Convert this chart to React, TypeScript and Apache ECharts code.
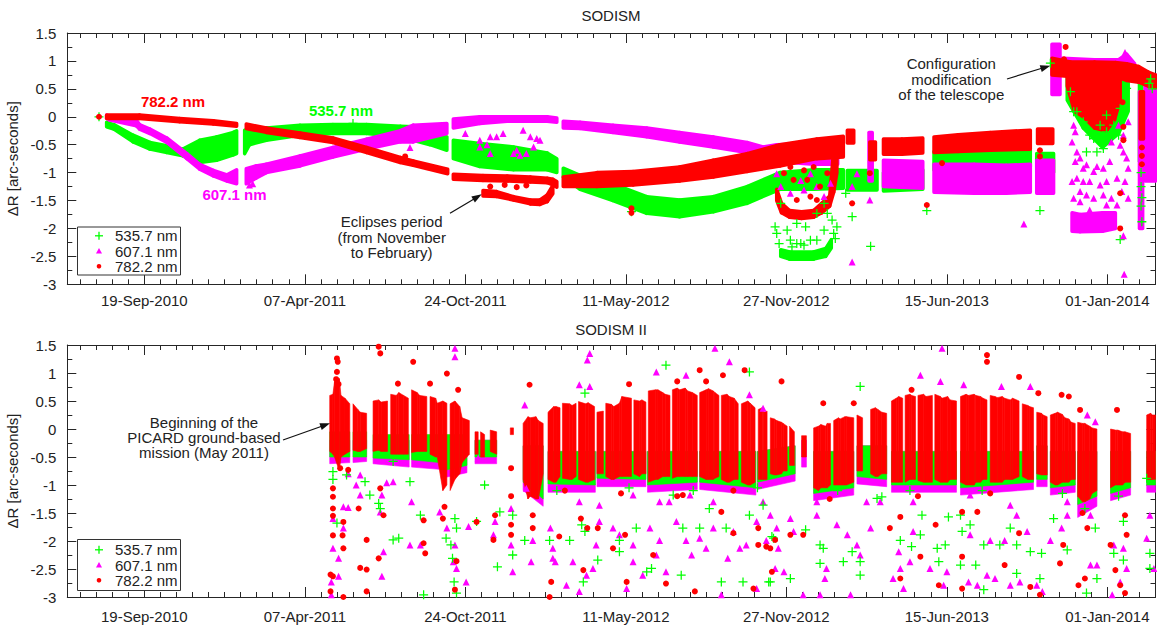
import React, { useEffect, useRef } from 'react';
import * as echarts from 'echarts';

// x values: days since 15-Jun-2010 (left edge of both panels)
const X_MAX = 1356;
const TICK_DAYS = [96, 296, 496, 696, 896, 1096, 1296];
const TICK_LABELS = ['19-Sep-2010', '07-Apr-2011', '24-Oct-2011', '11-May-2012', '27-Nov-2012', '15-Jun-2013', '01-Jan-2014'];
const MINOR_FIRST = 16;
const MINOR_STEP = 20;
const Y_MIN = -3;
const Y_MAX = 1.5;
const Y_STEP = 0.5;
const NAMES = ['535.7 nm', '607.1 nm', '782.2 nm'];
const PANEL_TITLES = ['SODISM', 'SODISM II'];

// ---------- SODISM (top panel) ----------
// dense trails: segments of [day, low, high]
const TOP_GREEN_BANDS = [
  [[49, -0.18, -0.1], [58, -0.22, -0.14], [82, -0.45, -0.33], [103, -0.58, -0.46], [124, -0.64, -0.52], [144, -0.7, -0.58], [165, -0.82, -0.42], [186, -0.78, -0.36], [207, -0.68, -0.28], [211, -0.66, -0.25]],
  [[221, -0.66, -0.24], [227, -0.5, -0.22], [248, -0.42, -0.2], [290, -0.33, -0.15], [331, -0.3, -0.14], [373, -0.3, -0.14], [415, -0.36, -0.17], [431, -0.42, -0.18], [452, -0.5, -0.28], [473, -0.6, -0.36]],
  [[481, -0.75, -0.42], [514, -0.89, -0.48], [556, -0.95, -0.54], [598, -0.95, -0.65], [610, -1.0, -0.75]],
  [[618, -1.08, -0.92], [639, -1.3, -1.05], [680, -1.5, -1.2], [722, -1.73, -1.43], [763, -1.79, -1.49], [805, -1.7, -1.43], [847, -1.55, -1.25], [888, -1.3, -1.0], [930, -1.3, -0.95], [967, -1.28, -0.95]],
  [[889, -2.5, -2.38], [900, -2.55, -2.42], [930, -2.55, -2.42], [945, -2.5, -2.36], [952, -2.35, -2.2]],
  [[972, -1.31, -0.96], [1009, -1.31, -0.96]],
  [[1017, -1.33, -1.0], [1066, -1.3, -0.95]],
  [[1080, -0.95, -0.62], [1130, -0.92, -0.62], [1170, -0.9, -0.6], [1200, -0.9, -0.6]],
  [[1208, -1.0, -0.66], [1229, -1.0, -0.66]],
  [[1246, 0.3, 0.75], [1266, -0.2, 0.75], [1290, -0.55, 0.7], [1310, -0.3, 0.7], [1322, 0.1, 0.7]],
  [[1336, -0.8, 0.69], [1339, -0.8, 0.69]],
];
const TOP_GREEN_POINTS = [
  [39.5, 0.0], [356, -0.12], [703, -1.7],
  [882, -1.97], [884, -2.09], [887, -2.27], [889, -1.55], [897, -2.03], [901, -2.21], [903, -2.33], [909, -1.91], [909, -2.27], [914, -2.27], [918, -2.3], [920, -1.97], [926, -2.21], [934, -2.21], [934, -1.73], [943, -2.03], [943, -1.55], [947, -1.73], [953, -1.85], [955, -2.09], [957, -2.18], [959, -1.97],
  [970, -1.37], [978, -1.79], [1001, -2.32], [1071, -1.68], [1212, -1.68],
  [1225, 0.96], [1250, 0.45], [1254, 0.09], [1258, 0.09], [1266, -0.09], [1270, -0.63], [1274, -0.33], [1279, -0.39], [1283, -0.63], [1287, -0.15], [1291, -0.57], [1295, -0.27], [1295, 0.03], [1304, -0.15], [1310, -0.33], [1312, 0.15], [1320, 0.51],
  [1338, -1.0], [1338, -1.25], [1339, -1.45], [1338, -1.6], [1339, -1.88], [1312, -2.2], [1348, 0.6], [1352, 0.5], [1350, 0.68],
];
const TOP_MAGENTA_BANDS = [
  [[49, -0.03, 0.03], [53, -0.06, 0.0], [86, -0.16, -0.06], [90, -0.22, -0.14], [103, -0.3, -0.22], [124, -0.46, -0.38], [149, -0.75, -0.66], [165, -0.94, -0.85], [182, -1.06, -0.96], [199, -1.15, -1.04], [211, -1.2, -0.95]],
  [[223, -1.2, -0.93], [235, -1.1, -0.88], [248, -1.0, -0.85], [290, -0.88, -0.7], [331, -0.72, -0.55], [373, -0.58, -0.4], [415, -0.45, -0.25], [431, -0.45, -0.15], [473, -0.3, -0.12]],
  [[481, -0.2, -0.04], [514, -0.12, 0.0], [548, -0.08, 0.0], [577, -0.08, 0.0], [598, -0.08, 0.0], [610, -0.1, -0.02]],
  [[618, -0.2, -0.08], [639, -0.21, -0.1], [680, -0.28, -0.15], [722, -0.36, -0.2], [763, -0.45, -0.28], [805, -0.54, -0.36], [847, -0.64, -0.46], [867, -0.71, -0.54], [884, -0.8, -0.5], [930, -0.85, -0.48], [960, -0.85, -0.45]],
  [[999, -1.15, -0.28], [1003, -1.15, -0.28]],
  [[1017, -1.25, -0.78], [1066, -1.28, -0.8]],
  [[1080, -1.35, -0.85], [1130, -1.37, -0.85], [1170, -1.37, -0.87], [1200, -1.35, -0.85]],
  [[1208, -1.37, -0.78], [1229, -1.37, -0.78]],
  [[1227, 0.4, 1.3], [1237, 0.4, 1.3]],
  [[1240, 0.78, 1.05], [1280, 0.8, 1.02], [1310, 0.8, 1.02], [1320, 0.75, 1.12], [1330, 0.7, 0.95]],
  [[1252, -2.05, -1.72], [1262, -2.06, -1.75], [1290, -2.05, -1.72], [1306, -2.0, -1.72]],
  [[1336, -2.0, 0.45], [1340, -2.0, 0.45]],
  [[1343, -1.15, 0.75], [1356, -1.15, 0.75]],
];
const TOP_MAGENTA_POINTS = [
  [227, -1.22], [231, -1.2], [427, -0.55], [496, -0.3], [514, -0.42], [514, -0.54], [523, -0.5], [527, -0.36], [527, -0.66], [535, -0.36], [543, -0.3], [556, -0.66], [560, -0.6], [564, -0.69], [568, -0.24], [572, -0.66], [577, -0.36], [581, -0.54], [585, -0.39], [589, -0.42],
  [884, -1.02], [889, -1.25], [901, -1.37], [914, -1.14], [918, -1.31], [926, -1.02], [934, -1.25], [943, -1.43], [951, -1.19],
  [978, -2.6], [1000, -1.49], [978, -1.25], [984, -1.02], [1192, -1.92],
  [1252, -0.45], [1258, -0.63], [1256, -0.8], [1262, -0.74], [1266, -0.92], [1270, -0.86], [1279, -0.98], [1283, -0.89], [1291, -0.92], [1299, -0.8], [1312, -0.51], [1316, -0.63], [1320, -0.74], [1322, -0.92], [1318, -1.16], [1322, -1.46], [1314, -1.34], [1295, -1.16], [1287, -1.22], [1274, -1.16], [1266, -1.16], [1258, -1.1], [1252, -1.16], [1254, -1.46], [1262, -1.52], [1270, -1.4], [1279, -1.46], [1291, -1.4], [1301, -1.46], [1308, -1.58], [1274, -1.67], [1256, -0.27], [1310, -0.15], [1322, -0.09], [1254, -0.15], [1301, -0.45], [1316, -0.33], [1308, -1.1], [1262, -1.34], [1295, -1.58],
  [1317, -2.82], [1316, -2.13], [1318, 1.15],
];
const TOP_RED_BANDS = [
  [[49, -0.03, 0.03], [90, -0.03, 0.03], [140, -0.09, -0.03], [182, -0.13, -0.07], [211, -0.17, -0.12]],
  [[223, -0.21, -0.13], [248, -0.28, -0.2], [290, -0.37, -0.29], [331, -0.46, -0.38], [373, -0.64, -0.55], [415, -0.82, -0.73], [431, -0.87, -0.79], [474, -1.02, -0.94]],
  [[481, -1.12, -1.03], [518, -1.14, -1.05], [548, -1.15, -1.06], [577, -1.17, -1.08], [598, -1.18, -1.1], [605, -1.22, -1.12], [610, -1.26, -1.16]],
  [[518, -1.42, -1.32], [535, -1.43, -1.34], [556, -1.49, -1.43], [577, -1.56, -1.49], [589, -1.57, -1.49], [598, -1.52, -1.4], [605, -1.38, -1.23]],
  [[618, -1.25, -1.08], [660, -1.25, -1.0], [705, -1.22, -0.98], [763, -1.15, -0.9], [805, -1.08, -0.78], [847, -0.98, -0.66], [888, -0.88, -0.5], [934, -0.75, -0.4], [967, -0.72, -0.35]],
  [[884, -1.5, -1.3], [890, -1.72, -1.55], [900, -1.8, -1.68], [915, -1.82, -1.7], [930, -1.8, -1.68], [940, -1.72, -1.55], [950, -1.6, -1.42], [955, -1.35, -0.6], [959, -1.0, -0.5]],
  [[972, -0.47, -0.24], [980, -0.47, -0.24]],
  [[1000, -0.77, -0.45], [1007, -0.77, -0.45]],
  [[1017, -0.67, -0.4], [1040, -0.67, -0.4], [1066, -0.65, -0.38]],
  [[1080, -0.64, -0.36], [1110, -0.62, -0.32], [1150, -0.6, -0.28], [1200, -0.58, -0.24]],
  [[1209, -0.48, -0.22], [1228, -0.48, -0.22]],
  [[1227, 0.75, 1.05], [1250, 0.72, 0.98], [1280, 0.72, 0.98], [1306, 0.72, 0.97], [1320, 0.65, 0.95], [1335, 0.62, 0.9], [1347, 0.55, 0.8], [1356, 0.52, 0.75]],
  [[1246, 0.55, 0.78], [1255, 0.1, 0.78], [1266, 0.0, 0.78], [1280, -0.2, 0.78], [1295, -0.25, 0.78], [1305, -0.05, 0.78], [1312, 0.3, 0.78]],
  [[1337, -0.4, 0.45], [1341, -0.4, 0.45]],
];
const TOP_RED_POINTS = [
  [39.5, 0.0], [421, -0.71], [703, -1.64], [703, -1.72], [527, -1.25], [545, -1.22], [560, -1.26], [572, -1.23],
  [901, -0.9], [918, -0.96], [922, -1.13], [905, -1.13], [930, -0.9], [938, -1.25], [893, -1.01], [909, -1.49], [926, -1.43], [947, -1.01], [934, -1.49],
  [978, -1.55], [1000, -1.01], [1071, -1.58], [1090, -0.83], [1212, -0.6], [1212, -0.71],
  [1242, 1.03], [1244, 1.25], [1312, -1.37], [1312, -2.0], [1316, -0.18], [1316, -0.42], [1315, 0.26], [1339, -0.55], [1339, -0.7], [1339, -0.85],
];

// ---------- SODISM II (bottom panel) ----------
const BOT_MAGENTA_BANDS = [
  [[327, -0.62, -0.2], [352, -0.6, -0.2]], [[356, -0.6, -0.2], [373, -0.58, -0.2]], [[381, -0.62, -0.2], [426, -0.68, -0.2]], [[429, -0.68, -0.2], [464, -0.72, -0.2]],
  [[466, -0.88, -0.2], [498, -0.78, -0.2]], [[508, -0.62, -0.2], [535, -0.62, -0.2]], [[568, -1.1, -0.3], [593, -1.38, -0.3]], [[599, -1.13, -0.4], [658, -1.13, -0.4]],
  [[660, -1.03, -0.4], [721, -1.03, -0.4]], [[723, -1.13, -0.4], [785, -1.08, -0.4]], [[788, -1.08, -0.4], [858, -1.18, -0.4]], [[860, -1.08, -0.4], [907, -0.93, -0.3]],
  [[915, -0.68, -0.2], [921, -0.68, -0.2]], [[930, -1.28, -0.4], [980, -1.18, -0.4]], [[984, -0.98, -0.3], [1021, -1.03, -0.3]], [[1027, -1.13, -0.4], [1108, -1.13, -0.4]],
  [[1113, -1.18, -0.4], [1204, -1.08, -0.4]], [[1208, -1.03, -0.3], [1221, -1.03, -0.3]], [[1225, -1.18, -0.4], [1256, -1.13, -0.4]], [[1259, -1.58, -0.4], [1283, -1.38, -0.4]],
  [[1300, -1.28, -0.4], [1325, -1.18, -0.4]], [[1345, -1.13, -0.4], [1356, -1.13, -0.4]],
];
const BOT_GREEN_BANDS = [
  [[327, -0.5, -0.05], [352, -0.5, -0.05]], [[356, -0.5, -0.05], [373, -0.5, -0.05]], [[381, -0.52, -0.1], [426, -0.55, -0.1]], [[429, -0.55, -0.1], [464, -0.6, -0.1]],
  [[466, -0.75, -0.1], [498, -0.65, -0.1]], [[508, -0.5, -0.2], [535, -0.5, -0.2]], [[568, -0.95, -0.3], [593, -1.25, -0.3]], [[599, -0.98, -0.4], [658, -1.0, -0.4]],
  [[660, -0.88, -0.4], [721, -0.9, -0.4]], [[723, -1.0, -0.4], [785, -0.95, -0.4]], [[788, -0.95, -0.4], [858, -1.05, -0.4]], [[860, -0.95, -0.4], [907, -0.8, -0.3]],
  [[930, -1.15, -0.4], [980, -1.05, -0.4]], [[984, -0.85, -0.3], [1021, -0.9, -0.3]], [[1027, -1.0, -0.4], [1108, -1.0, -0.4]], [[1113, -1.05, -0.4], [1204, -0.95, -0.4]],
  [[1208, -0.9, -0.3], [1221, -0.9, -0.3]], [[1225, -1.05, -0.4], [1256, -1.0, -0.4]], [[1259, -1.35, -0.4], [1283, -1.2, -0.4]], [[1300, -1.15, -0.4], [1325, -1.05, -0.4]],
  [[1345, -1.0, -0.4], [1356, -1.0, -0.4]],
];
const BOT_RED_BANDS = [
  [[327, -0.4, 0.6], [331, -0.45, 0.62], [333, -0.5, 0.85], [339, -0.75, 0.9], [341, -0.5, 0.6], [346, -0.45, 0.55], [352, -0.4, 0.45]],
  [[356, -0.38, 0.45], [362, -0.4, 0.35], [365, -0.4, 0.3], [373, -0.35, 0.28]],
  [[381, -0.4, 0.5], [388, -0.38, 0.52], [391, -0.4, 0.48], [399, -0.4, 0.5]],
  [[403, -0.45, 0.62], [410, -0.45, 0.6], [413, -0.45, 0.65], [419, -0.45, 0.6], [425, -0.45, 0.55]],
  [[429, -0.42, 0.7], [436, -0.4, 0.65], [439, -0.4, 0.6], [448, -0.4, 0.58]],
  [[452, -0.45, 0.58], [459, -0.5, 0.55], [461, -0.5, 0.46], [468, -1.1, 0.5], [473, -1.0, 0.46]],
  [[477, -1.1, 0.45], [483, -0.9, 0.5], [489, -0.8, 0.4], [492, -0.6, 0.2], [501, -0.45, 0.15]],
  [[508, -0.45, -0.05], [512, -0.45, -0.05]],
  [[515, -0.5, -0.05], [520, -0.5, -0.1]],
  [[527, -0.4, -0.02], [535, -0.45, -0.05]],
  [[552, -0.1, 0.02], [556, -0.1, 0.02]],
  [[568, -0.9, 0.1], [574, -1.25, 0.22], [577, -1.2, 0.2], [584, -1.25, 0.22], [587, -1.25, 0.15], [593, -0.8, 0.1]],
  [[599, -0.9, 0.3], [606, -0.95, 0.4], [609, -0.95, 0.4], [614, -0.85, 0.38]],
  [[617, -0.88, 0.46], [626, -0.9, 0.45], [629, -0.9, 0.42], [634, -0.85, 0.46]],
  [[637, -0.9, 0.49], [646, -0.95, 0.45], [649, -0.95, 0.47], [657, -0.9, 0.4]],
  [[660, -0.8, 0.3], [668, -0.8, 0.32]],
  [[671, -0.85, 0.46], [678, -0.9, 0.44], [681, -0.9, 0.4], [688, -0.85, 0.46], [691, -0.85, 0.58], [703, -0.85, 0.55]],
  [[706, -0.8, 0.52], [713, -0.85, 0.5], [716, -0.8, 0.52], [721, -0.8, 0.48]],
  [[724, -0.95, 0.68], [733, -0.9, 0.7], [736, -0.9, 0.7], [742, -0.85, 0.65], [745, -0.85, 0.62], [751, -0.85, 0.6]],
  [[754, -0.88, 0.7], [760, -0.85, 0.73], [763, -0.85, 0.7], [770, -0.85, 0.73], [773, -0.85, 0.68], [779, -0.85, 0.65], [785, -0.85, 0.6]],
  [[788, -0.85, 0.65], [796, -0.9, 0.7], [799, -0.9, 0.72], [805, -0.9, 0.68], [807, -0.88, 0.65], [812, -0.85, 0.6]],
  [[815, -0.9, 0.6], [822, -0.95, 0.62], [825, -0.95, 0.58], [831, -0.9, 0.55], [836, -0.9, 0.45]],
  [[840, -0.95, 0.45], [848, -1.0, 0.5], [851, -1.0, 0.46], [857, -0.95, 0.38]],
  [[861, -0.9, 0.35], [866, -0.9, 0.38], [868, -0.9, 0.3], [872, -0.9, 0.32]],
  [[876, -0.8, 0.2], [881, -0.82, 0.18], [884, -0.82, 0.15], [890, -0.8, 0.12], [892, -0.75, 0.1], [897, -0.75, 0.05]],
  [[900, -0.65, 0.05], [906, -0.65, -0.05]],
  [[915, -0.5, -0.12], [921, -0.5, -0.12]],
  [[930, -1.05, 0.02], [936, -1.1, 0.05], [939, -1.05, 0.08], [945, -1.05, 0.05], [947, -1.05, 0.1], [951, -1.0, 0.1]],
  [[955, -1.0, 0.15], [961, -1.0, 0.2], [963, -1.0, 0.18], [969, -1.0, 0.22], [971, -1.0, 0.22], [980, -0.95, 0.2]],
  [[984, -0.75, 0.25], [991, -0.75, 0.2]],
  [[1001, -0.8, 0.35], [1007, -0.85, 0.38], [1010, -0.85, 0.35], [1015, -0.8, 0.3], [1021, -0.8, 0.28]],
  [[1027, -0.95, 0.5], [1033, -0.95, 0.55], [1036, -0.95, 0.58], [1041, -0.95, 0.55]],
  [[1044, -0.95, 0.6], [1050, -0.9, 0.62], [1052, -0.9, 0.6], [1057, -0.9, 0.58]],
  [[1060, -0.92, 0.6], [1067, -0.95, 0.62], [1070, -0.95, 0.58], [1078, -0.95, 0.6]],
  [[1081, -0.9, 0.62], [1088, -0.95, 0.58], [1090, -0.95, 0.55], [1097, -0.95, 0.58], [1100, -0.9, 0.52], [1108, -0.9, 0.5]],
  [[1113, -0.95, 0.58], [1120, -1.0, 0.62], [1123, -1.0, 0.6], [1130, -1.0, 0.62], [1132, -0.95, 0.6], [1138, -0.95, 0.58], [1141, -0.9, 0.55], [1146, -0.9, 0.52]],
  [[1150, -0.95, 0.6], [1156, -0.95, 0.58], [1159, -0.95, 0.56], [1165, -0.95, 0.58], [1168, -0.9, 0.55], [1175, -0.9, 0.52], [1178, -0.9, 0.55], [1186, -0.85, 0.5]],
  [[1190, -0.85, 0.45], [1197, -0.9, 0.42], [1199, -0.9, 0.4], [1204, -0.9, 0.38]],
  [[1208, -0.8, 0.3], [1214, -0.82, 0.28], [1216, -0.82, 0.25], [1221, -0.82, 0.22]],
  [[1225, -0.95, 0.25], [1231, -1.0, 0.28], [1234, -1.0, 0.3], [1240, -0.95, 0.26], [1243, -0.95, 0.2], [1248, -0.95, 0.18], [1251, -0.9, 0.12], [1256, -0.9, 0.1]],
  [[1259, -1.2, 0.12], [1265, -1.3, 0.1], [1268, -1.3, 0.1], [1274, -1.25, 0.05], [1277, -1.15, 0.02], [1283, -1.1, 0.0]],
  [[1300, -1.05, 0.0], [1306, -1.0, -0.02], [1309, -1.0, -0.02], [1315, -1.0, -0.05], [1318, -0.95, -0.05], [1325, -0.95, -0.08]],
  [[1345, -0.9, 0.25], [1350, -0.9, 0.28], [1352, -0.9, 0.25], [1356, -0.9, 0.25]],
];
const BOT_MAGENTA_POINTS = [
  [331, -1.6], [331, -2.13], [329, -2.73], [329, -2.96], [344, -1.39], [344, -1.77], [350, -1.4], [338, -2.31], [338, -2.63], [365, -0.82], [365, -1.18], [392, -1.18], [394, -2.19], [392, -2.63], [398, -0.96], [390, -1.48], [360, -1.0], [350, -0.8],
  [483, 1.44], [483, 1.29], [406, -0.94], [427, -2.07], [440, -2.07], [429, -1.3], [464, -1.48], [473, -1.77], [483, -2.07], [481, -2.37], [485, -2.49], [497, -2.73], [500, -1.74], [512, -0.52], [531, -1.89], [533, -1.65], [553, -1.42], [553, -2.07], [555, -2.55], [570, 0.43], [578, -2.37], [572, -1.06], [580, -1.99],
  [602, -1.77], [605, -2.31], [605, -2.13], [608, -2.37], [630, -2.37], [622, -2.79], [638, 0.79], [651, 0.76], [651, 1.35], [648, 1.23], [638, -2.9], [647, -2.61], [655, -2.49], [659, -2.07], [663, -1.65], [680, -1.77], [688, -1.89], [697, -2.85], [705, -2.37], [705, -2.07], [717, -2.61], [726, -1.77], [734, 1.02], [734, -2.25], [738, -1.99], [746, -2.55], [750, -1.3], [759, -1.65], [771, 0.96], [771, -1.99], [778, -2.25], [788, -1.95], [796, -2.13], [805, -1.77], [807, 1.44], [815, -2.96], [825, 1.2], [823, -2.31], [830, -1.83], [838, -2.13], [846, -2.07], [859, -1.65], [871, -1.99], [884, -1.77], [882, -2.49], [850, 0.61], [867, 0.37],
  [859, -2.85], [886, -2.13], [893, -2.55], [901, -1.6], [905, -1.83], [917, -2.96], [938, -2.96], [934, -1.54], [946, -2.49], [944, -2.67], [959, -1.71], [972, -1.89], [976, -2.96], [984, -2.07], [988, -2.25], [1001, -1.77], [1013, -1.3], [1029, -2.67], [1036, -2.19], [1038, -2.49], [1042, -2.85], [1054, -1.83], [1063, 0.96], [1050, -2.37], [1075, -2.49], [1088, 0.85], [1090, 1.44], [1092, -2.79], [1096, -2.55], [1117, 0.79], [1123, -2.73], [1125, -1.89], [1134, -2.79], [1146, -2.61], [1150, -1.99], [1156, -2.67], [1164, 0.76], [1168, -1.99], [1175, -2.79], [1183, -1.54], [1187, -2.73], [1200, 0.76], [1196, -1.83], [1208, -2.79], [1215, -2.9], [1225, -1.99], [1239, -1.77], [1246, -1.54], [1271, 0.25], [1275, -2.43], [1281, 0.13], [1283, -2.43], [1302, -2.96], [1304, -2.07], [1316, -2.13], [1312, -2.73], [1320, -2.49], [1354, -2.49], [1349, -1.54], [1345, -1.95],
  [638, -1.3], [663, -1.36], [705, -1.18], [738, -1.3], [776, -1.18], [805, -1.3], [867, -1.3], [876, -1.54], [934, -1.3], [996, -1.3], [1054, -1.3], [1125, -1.18], [1175, -1.36], [1246, -1.3], [1275, -1.54],
];
const BOT_GREEN_POINTS = [
  [331, -0.76], [331, -0.9], [336, -1.68], [348, -0.82], [371, -0.94], [377, -1.18], [388, -1.33], [390, -1.42], [406, -1.98], [413, -1.95], [406, -0.58],
  [440, -1.54], [444, -2.96], [472, -1.95], [478, -2.07], [480, -2.31], [482, -2.73], [485, -2.93], [483, -1.6], [485, -1.77], [510, -1.65], [536, -2.46], [539, -1.48], [555, -2.25], [555, -1.54], [570, -1.99], [601, -1.99], [626, -1.99], [641, -1.71], [645, -1.83], [643, -2.73], [645, 0.64], [661, -2.34], [688, -2.19], [688, -1.99], [709, -1.77], [722, -2.55], [728, -2.49], [746, 1.14], [755, -1.18], [767, -1.77], [765, -2.61], [788, -1.77], [800, -1.42], [815, -2.73], [821, -1.77], [842, -2.73], [850, 1.02], [850, -1.54], [867, -1.36], [874, -2.73], [880, -1.95],
  [876, -2.73], [878, -1.92], [901, -2.67], [920, -1.8], [938, -2.07], [938, -2.4], [942, -2.13], [967, -2.37], [978, -2.19], [988, 0.76], [988, -2.37], [988, -2.61], [1009, -1.24], [1015, -1.21], [1038, -1.99], [1052, -2.1], [1063, -1.89], [1065, -1.54], [1084, -2.13], [1086, -2.37], [1094, -2.07], [1098, -1.57], [1113, -1.54], [1113, -2.43], [1115, -1.83], [1125, -1.71], [1132, -2.43], [1142, -2.87], [1142, -2.07], [1162, -2.07], [1175, -1.77], [1183, -2.07], [1183, -2.58], [1200, -2.19], [1212, -2.67], [1214, -2.22], [1229, -1.6], [1246, -2.16], [1270, -2.93], [1268, -1.42], [1283, -2.67], [1281, -1.77], [1304, -2.22], [1316, -2.34], [1316, -1.65], [1349, -2.22], [1349, -2.49], [1345, -0.88],
  [427, -0.94], [520, -1.0], [610, -1.1], [700, -1.05], [780, -1.1], [860, -1.05], [960, -1.1], [1050, -1.1], [1140, -1.1], [1240, -1.15], [1310, -1.2],
];
const BOT_RED_POINTS = [
  [336, 1.26], [337, 1.2], [336, 1.02], [335, 0.89], [338, 0.8], [331, -1.42], [331, -1.9], [331, -2.63], [331, -1.21], [331, -1.06], [344, -1.66], [344, -2.13], [344, -3.0], [340, -0.7], [350, -0.73], [373, -1.98], [365, -2.48], [373, -2.9], [373, -2.51], [394, -1.54], [390, -1.06], [363, -1.42], [388, -2.31], [388, 1.47], [390, 1.35], [328, -2.6], [328, -2.9], [331, -1.55], [343, -1.9],
  [431, 1.2], [412, 0.81], [452, 0.81], [473, 0.99], [487, 0.7], [576, 0.79], [444, -1.63], [446, -2.22], [444, -2.04], [468, -1.6], [470, -1.39], [483, -2.87], [485, -2.36], [510, -1.66], [531, -1.98], [533, -1.54], [553, -1.71], [553, -1.89], [553, -0.7], [553, -1.2], [580, -1.54], [580, -1.77], [613, -1.92], [603, -2.73], [601, -3.0], [640, -1.6], [648, -1.77], [643, -2.52], [661, -1.77], [680, -2.13], [695, -1.89], [697, -2.73], [730, -2.25], [746, -2.76], [767, -1.18], [782, -2.9], [815, -1.48], [830, -1.86], [844, 1.05], [855, -2.85], [861, -1.77], [871, -2.1], [882, -1.98], [788, 1.05], [817, 0.96],
  [861, -2.07], [878, -2.55], [876, -2.13], [901, -1.89], [917, -1.89], [942, 0.46], [980, 0.46], [1025, -1.77], [1038, -1.57], [1038, -2.67], [1052, 0.7], [1063, -2.28], [1082, -1.71], [1086, -2.79], [1115, -2.85], [1115, -2.28], [1115, -1.48], [1146, 1.32], [1146, 1.2], [1134, -1.48], [1168, -2.43], [1186, 0.93], [1186, -1.86], [1200, -2.82], [1210, 0.64], [1212, -2.96], [1237, -2.4], [1239, 0.61], [1248, 0.58], [1262, 0.34], [1260, -2.79], [1271, -1.77], [1268, -2.67], [1306, -2.52], [1308, 0.34], [1318, -1.54], [1318, -2.93], [1320, -1.89], [1312, -2.79], [1300, -2.07], [1241, -2.07],
  [700, 0.8], [760, 0.85], [796, 0.85], [890, 0.85], [620, -1.1], [690, -1.15], [760, -1.2], [830, -1.1], [950, -1.25], [1060, -1.2], [1150, -1.15], [1265, -1.5],
];

const FONT = 'Liberation Sans, Arial, Helvetica, sans-serif';
const AXIS = '#262626';
const TXT = '#222';
const COLORS = ['#00ff00', '#ff00ff', '#ff0000'];
const PLUS = 'path://M4.3,0h1.4v4.3h4.3v1.4h-4.3v4.3h-1.4v-4.3h-4.3v-1.4h4.3z';

const MINOR_DAYS: number[] = [];
for (let d = MINOR_FIRST; d < X_MAX; d += MINOR_STEP) MINOR_DAYS.push(d);

function fmtDate(v: number) {
  const i = TICK_DAYS.indexOf(Math.round(v));
  return i >= 0 ? TICK_LABELS[i] : '';
}

function bandSeries(name: string, color: string, segs: number[][][], panel: number, stroke: number) {
  const data: number[][] = [];
  segs.forEach((seg, s) => seg.forEach((p) => data.push([p[0], p[1], p[2], s])));
  return {
    type: 'custom',
    name,
    xAxisIndex: panel * 4,
    yAxisIndex: panel * 2,
    data,
    silent: true,
    encode: { x: 0, y: [1, 2] },
    renderItem: (params: any, api: any) => {
      const i = params.dataIndex;
      const cur = data[i];
      const prev = data[i - 1];
      const next = data[i + 1];
      if (next && next[3] === cur[3]) {
        const p1 = api.coord([cur[0], cur[1]]);
        const p2 = api.coord([cur[0], cur[2]]);
        const p3 = api.coord([next[0], next[2]]);
        const p4 = api.coord([next[0], next[1]]);
        return {
          type: 'polygon',
          shape: { points: [p1, p2, p3, p4] },
          style: { fill: color, stroke: color, lineWidth: stroke, lineJoin: 'round' },
        };
      }
      if (!prev || prev[3] !== cur[3]) {
        const p1 = api.coord([cur[0], cur[1]]);
        const p2 = api.coord([cur[0], cur[2]]);
        return {
          type: 'line',
          shape: { x1: p1[0], y1: p1[1], x2: p2[0], y2: p2[1] },
          style: { stroke: color, lineWidth: stroke + 2, lineCap: 'round' },
        };
      }
      return { type: 'group', children: [] };
    },
  };
}

function pointSeries(name: string, kind: number, pts: number[][], panel: number) {
  const symbol = kind === 0 ? PLUS : kind === 1 ? 'triangle' : 'circle';
  const size = kind === 0 ? 9 : kind === 1 ? 7 : 6;
  return {
    type: 'scatter',
    name,
    xAxisIndex: panel * 4,
    yAxisIndex: panel * 2,
    data: pts,
    symbol,
    symbolSize: size,
    itemStyle: { color: COLORS[kind], opacity: 1 },
    silent: true,
  };
}

function xAxesFor(grid: number, labelMargin: number) {
  const base = { type: 'value', gridIndex: grid, min: 0, max: X_MAX, splitLine: { show: false } };
  const ls = { lineStyle: { color: AXIS, width: 1 } };
  return [
    {
      ...base, position: 'bottom',
      axisLine: { show: true, onZero: false, ...ls },
      axisTick: { show: true, inside: true, length: 10, customValues: TICK_DAYS, ...ls },
      axisLabel: { show: true, customValues: TICK_DAYS, formatter: fmtDate, margin: labelMargin, color: TXT, fontSize: 15, fontFamily: FONT },
    },
    {
      ...base, position: 'bottom',
      axisLine: { show: false, onZero: false },
      axisTick: { show: true, inside: true, length: 5, customValues: MINOR_DAYS, ...ls },
      axisLabel: { show: false },
    },
    {
      ...base, position: 'top',
      axisLine: { show: true, onZero: false, ...ls },
      axisTick: { show: true, inside: true, length: 10, customValues: TICK_DAYS, ...ls },
      axisLabel: { show: false },
    },
    {
      ...base, position: 'top',
      axisLine: { show: false, onZero: false },
      axisTick: { show: true, inside: true, length: 5, customValues: MINOR_DAYS, ...ls },
      axisLabel: { show: false },
    },
  ];
}

function yAxesFor(grid: number) {
  const base = { type: 'value', gridIndex: grid, min: Y_MIN, max: Y_MAX, interval: Y_STEP, splitLine: { show: false }, minorSplitLine: { show: false } };
  const ls = { lineStyle: { color: AXIS, width: 1 } };
  return [
    {
      ...base, position: 'left',
      axisLine: { show: true, onZero: false, ...ls },
      axisTick: { show: true, inside: true, length: 9, ...ls },
      minorTick: { show: true, splitNumber: 2, length: 5, ...ls },
      axisLabel: { show: true, margin: 11, color: TXT, fontSize: 15, fontFamily: FONT, formatter: (v: number) => String(Math.round(v * 10) / 10) },
      name: 'ΔR [arc-seconds]', nameLocation: 'middle', nameGap: 41,
      nameTextStyle: { color: TXT, fontSize: 15, fontFamily: FONT },
    },
    {
      ...base, position: 'right',
      axisLine: { show: true, onZero: false, ...ls },
      axisTick: { show: true, inside: true, length: 9, ...ls },
      minorTick: { show: true, splitNumber: 2, length: 5, ...ls },
      axisLabel: { show: false },
    },
  ];
}

function txt(text: string, x: number, y: number, extra: any = {}) {
  return {
    type: 'text', z: 100,
    style: { text, x, y, align: 'center', verticalAlign: 'middle', fill: TXT, fontSize: 15, fontFamily: FONT, lineHeight: 15.5, ...extra },
  };
}

function arrow(x1: number, y1: number, x2: number, y2: number) {
  const dx = x2 - x1;
  const dy = y2 - y1;
  const L = Math.hypot(dx, dy);
  const ux = dx / L;
  const uy = dy / L;
  const hl = 10;
  const hw = 3.5;
  const bx = x2 - ux * hl;
  const by = y2 - uy * hl;
  return [
    { type: 'line', z: 100, shape: { x1, y1, x2: bx + ux * 2, y2: by + uy * 2 }, style: { stroke: '#111', lineWidth: 1.2 } },
    { type: 'polygon', z: 100, shape: { points: [[x2, y2], [bx - uy * hw, by + ux * hw], [bx + uy * hw, by - ux * hw]] }, style: { fill: '#111' } },
  ];
}

function legend(x: number, y: number, h: number, gap: number) {
  const mid = y + h / 2;
  const rows = [mid - gap, mid, mid + gap];
  const sx = 99;
  const els: any[] = [
    { type: 'rect', z: 100, shape: { x, y, width: 103, height: h }, style: { fill: '#fff', stroke: '#333', lineWidth: 1 } },
    { type: 'line', z: 101, shape: { x1: sx - 4, y1: rows[0], x2: sx + 4, y2: rows[0] }, style: { stroke: COLORS[0], lineWidth: 1.3 } },
    { type: 'line', z: 101, shape: { x1: sx, y1: rows[0] - 4, x2: sx, y2: rows[0] + 4 }, style: { stroke: COLORS[0], lineWidth: 1.3 } },
    { type: 'polygon', z: 101, shape: { points: [[sx, rows[1] - 3], [sx - 3, rows[1] + 2.5], [sx + 3, rows[1] + 2.5]] }, style: { fill: COLORS[1] } },
    { type: 'circle', z: 101, shape: { cx: sx, cy: rows[2], r: 2.3 }, style: { fill: COLORS[2] } },
  ];
  NAMES.forEach((n, i) => els.push({ type: 'text', z: 101, style: { text: n, x: 115, y: rows[i], align: 'left', verticalAlign: 'middle', fill: TXT, fontSize: 15, fontFamily: FONT } }));
  return els;
}

export default function App() {
  const ref = useRef<HTMLDivElement>(null);
  useEffect(() => {
    if (!ref.current) return;
    const chart = echarts.init(ref.current, null, { renderer: 'svg' });
    const series: any[] = [];
    const panels = [
      { bands: [TOP_GREEN_BANDS, TOP_MAGENTA_BANDS, TOP_RED_BANDS], points: [TOP_GREEN_POINTS, TOP_MAGENTA_POINTS, TOP_RED_POINTS], order: [0, 1, 2], stroke: 3.5 },
      { bands: [BOT_GREEN_BANDS, BOT_MAGENTA_BANDS, BOT_RED_BANDS], points: [BOT_GREEN_POINTS, BOT_MAGENTA_POINTS, BOT_RED_POINTS], order: [1, 0, 2], stroke: 0.6 },
    ];
    panels.forEach((p, panel) => {
      p.order.forEach((k) => {
        series.push(bandSeries(NAMES[k], COLORS[k], p.bands[k], panel, p.stroke));
      });
      p.order.forEach((k) => {
        series.push(pointSeries(NAMES[k], k, p.points[k], panel));
      });
    });
    const graphic: any[] = [
      txt(PANEL_TITLES[0], 611, 15),
      txt(PANEL_TITLES[1], 611, 329),
      txt('782.2 nm', 173, 101, { fill: COLORS[2], fontWeight: 'bold' }),
      txt('535.7 nm', 341, 110, { fill: COLORS[0], fontWeight: 'bold' }),
      txt('607.1 nm', 234.5, 194, { fill: COLORS[1], fontWeight: 'bold' }),
      txt('Eclipses period\n(from November\nto February)', 391.7, 237),
      txt('Configuration\nmodification\nof the telescope', 951.3, 79),
      txt('Beginning of the\nPICARD ground-based\nmission (May 2011)', 204, 437.3, { lineHeight: 15.3 }),
      ...arrow(450, 213.3, 481.7, 194.3),
      ...arrow(1007, 79, 1050.3, 65.7),
      ...arrow(283, 440, 330, 423.3),
      ...legend(77.5, 227, 48, 15.2),
      ...legend(77.5, 539.5, 51, 15.2),
    ];
    chart.setOption({
      animation: false,
      backgroundColor: '#ffffff',
      textStyle: { fontFamily: FONT },
      grid: [
        { left: 67.3, top: 33, width: 1088.2, height: 251.3, outerBoundsMode: 'none' },
        { left: 67.3, top: 345, width: 1088.2, height: 252, outerBoundsMode: 'none' },
      ],
      xAxis: [...xAxesFor(0, 9), ...xAxesFor(1, 12)],
      yAxis: [...yAxesFor(0), ...yAxesFor(1)],
      series,
      graphic,
    });
    return () => chart.dispose();
  }, []);
  return <div ref={ref} style={{ position: 'fixed', left: 0, top: 0, width: 1157, height: 629, background: '#fff' }} />;
}
